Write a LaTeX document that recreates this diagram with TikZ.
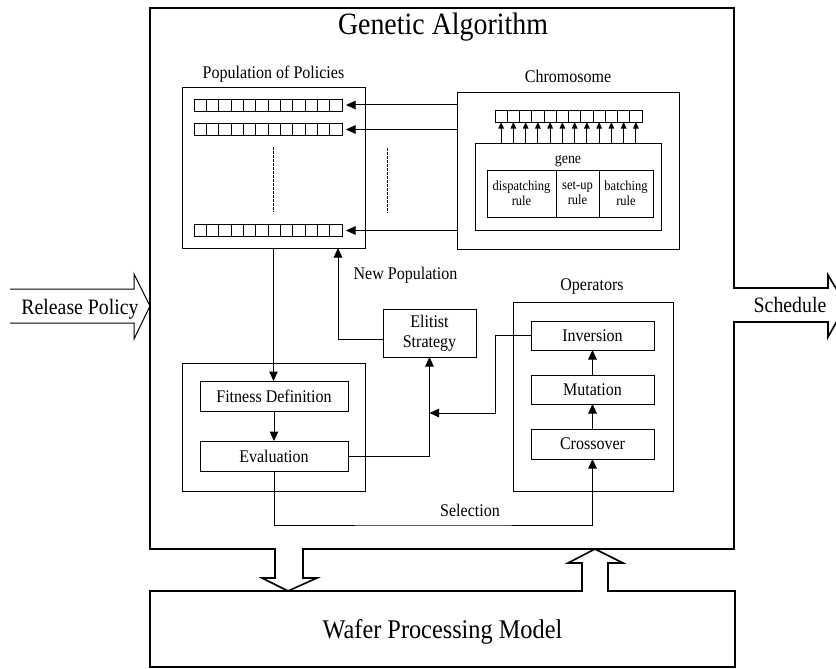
\documentclass[tikz,border=0pt]{standalone}
\usepackage{fontspec}
\setmainfont{Liberation Serif}[FakeStretch=0.9]
\usetikzlibrary{arrows.meta,calc}
\begin{document}
\begin{tikzpicture}[x=1pt,y=-1pt,
  box/.style={draw,line width=1pt,inner sep=0pt,outer sep=0pt,align=center},
  txt/.style={font=\fontsize{17.8}{20}\selectfont,inner sep=0pt},
  lbl/.style={txt,anchor=base},
  arr/.style={line width=1pt,-{Triangle[length=9.5pt,width=8.5pt]}},
  sarr/.style={line width=0.9pt,-{Triangle[length=6.5pt,width=5.5pt]}},
  cellrow/.style={draw,line width=0.9pt,minimum width=148pt,minimum height=12pt,inner sep=0pt,outer sep=0pt},
  heavy/.style={line width=1.6pt,line join=miter},
  outline/.style={line width=1pt,line join=miter},
  dotline/.style={line width=0.8pt,dash pattern=on 3pt off 1pt}
]
\useasboundingbox (0,0) rectangle (836,669);
\clip (0,0) rectangle (836,669);

% Genetic Algorithm frame with Schedule arrow and down arrow
\draw[heavy] (150,8) -- (734,8) -- (734,288) -- (828,288) -- (828,275) -- (846,305) -- (828,337) -- (828,322) -- (734,322) -- (734,549) -- (303,549) -- (303,578) -- (317,578) -- (288,591) -- (262,578) -- (275,578) -- (275,549) -- (150,549) -- cycle;
% Wafer Processing Model with up arrow
\draw[heavy] (150,591) -- (582,591) -- (582,563) -- (568,563) -- (595,549) -- (623,563) -- (608,563) -- (608,591) -- (735,591) -- (735,667) -- (150,667) -- cycle;
% Release Policy arrow
\draw[outline] (10,289) -- (134,289) -- (134,274) -- (150,306) -- (134,339) -- (134,323) -- (10,323);

\node[lbl,font=\fontsize{31}{33}\selectfont] (title) at (443,34.5) {Genetic Algorithm};
\node[lbl,font=\fontsize{22}{24}\selectfont] (rel) at (80,314) {Release Policy};
\node[lbl,font=\fontsize{22}{24}\selectfont] (sch) at (790,312) {Schedule};
\node[lbl,font=\fontsize{27}{29}\selectfont] (wpm) at (442.5,638) {Wafer Processing Model};

% Population of Policies
\node[box,minimum width=183pt,minimum height=160pt] (pop) at (273.5,168) {};
\node[lbl] (poplbl) at (273.5,78.3) {Population of Policies};
\node[cellrow] (r1) at (268,105) {};
\node[cellrow] (r2) at (268,129.5) {};
\node[cellrow] (r3) at (268,230.5) {};
\foreach \r in {r1,r2,r3}
  \foreach \k in {1,...,11}
    \draw[line width=0.9pt] ($(\r.north west)+({\k*148/12},0)$) -- ($(\r.south west)+({\k*148/12},0)$);
\coordinate (d1a) at (273,147); \coordinate (d1b) at (273,212);
\coordinate (d2a) at (387,148); \coordinate (d2b) at (387,213);
\draw[dotline] (d1a) -- (d1b);
\draw[dotline] (d2a) -- (d2b);

% Chromosome
\node[box,minimum width=222pt,minimum height=156pt] (chrom) at (568,171) {};
\node[lbl] (chromlbl) at (568,82.7) {Chromosome};
\node[cellrow,minimum width=147pt] (crow) at (568.5,116) {};
\foreach \k in {1,...,11}
  \draw[line width=0.9pt] ($(crow.north west)+({\k*147/12},0)$) -- ($(crow.south west)+({\k*147/12},0)$);
\node[box,minimum width=186pt,minimum height=87pt] (gene) at (568,186.5) {};
\node[lbl,font=\fontsize{15.5}{17}\selectfont] (genelbl) at (568,163) {gene};
\node[box,minimum width=69pt,minimum height=47pt,font=\fontsize{13.9}{15}\selectfont] (disp) at (521.5,193.5) {dispatching\\rule};
\node[box,minimum width=43pt,minimum height=47pt,font=\fontsize{13.9}{15}\selectfont] (setup) at (577.5,193.5) {set-up\\rule};
\node[box,minimum width=54pt,minimum height=47pt,font=\fontsize{13.9}{15}\selectfont] (batch) at (626,193.5) {batching\\rule};
\foreach \k in {1,...,12}{
  \path ($(crow.south west)+({(\k-0.5)*147/12},0)$) coordinate (ct);
  \draw[sarr] (ct |- gene.north) -- (ct);
}
\foreach \r in {r1,r2,r3}
  \draw[arr] (chrom.west |- \r.east) -- ([xshift=4pt]\r.east);

% Elitist strategy
\node[box,txt,minimum width=93pt,minimum height=48pt] (elit) at (429.5,333) {Elitist\\Strategy};
\node[lbl] (newpop) at (405.5,279) {New Population};

% Evaluation block
\node[box,minimum width=183pt,minimum height=128pt] (evc) at (273.5,427) {};
\node[box,txt,minimum width=148pt,minimum height=30pt] (fit) at (274,396) {Fitness Definition};
\node[box,txt,minimum width=148pt,minimum height=30pt] (eval) at (274,456) {Evaluation};

% Operators
\node[box,minimum width=160pt,minimum height=189pt] (ops) at (593,396.5) {};
\node[lbl] (opslbl) at (592,290) {Operators};
\node[box,txt,minimum width=123pt,minimum height=29pt] (inv) at (592.5,335.5) {Inversion};
\node[box,txt,minimum width=123pt,minimum height=29pt] (mut) at (592.5,389.5) {Mutation};
\node[box,txt,minimum width=123pt,minimum height=30pt] (cross) at (592.5,444) {Crossover};
\node[lbl] (sellbl) at (470,516) {Selection};

% Connectors
\draw[arr] (pop.south) -- (pop.south |- fit.north);
\draw[arr] (fit.south) -- (eval.north);
\draw[arr] (eval.east) -| (elit.south);
\coordinate (bend) at (495,413);
\draw[arr] (inv.west) -| (bend) -- (bend -| elit.south);
\coordinate (npin) at ([xshift=64.5pt]pop.south);
\draw[arr] ([yshift=-6pt]elit.west) -| (npin);
\draw[arr] (mut.north) -- (inv.south);
\draw[arr] (cross.north) -- (mut.south);
\coordinate (selc) at (433,525);
\draw[arr] (eval.south) |- (selc) -| (cross.south);
\end{tikzpicture}
\end{document}
